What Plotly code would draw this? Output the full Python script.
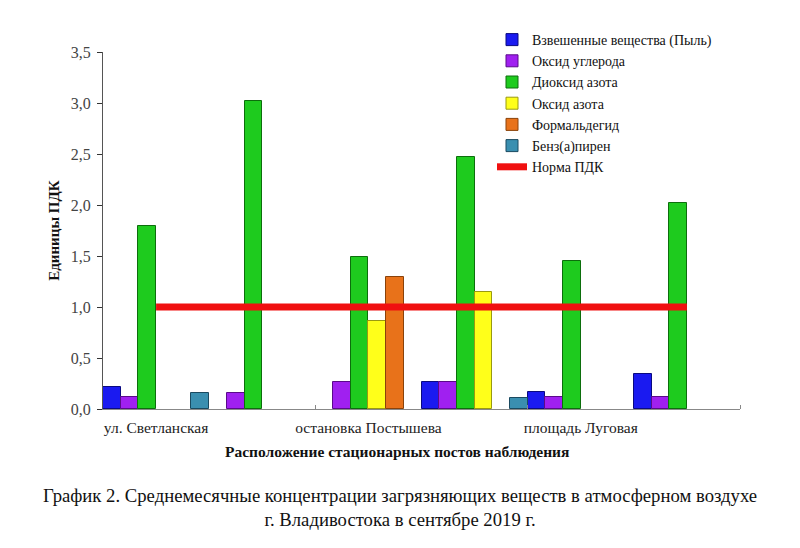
import plotly.graph_objects as go

# 6 подгрупп по оси X (по две на каждый пост наблюдения)
positions = [0, 1, 2, 3, 4, 5]
post_ticks = [0, 2, 4]
post_labels = ["ул. Светланская", "остановка Постышева", "площадь Луговая"]

dust = [0.22, None, None, 0.26, 0.17, 0.34]
co = [0.12, 0.16, 0.26, 0.26, 0.12, 0.12]
no2 = [1.79, 3.02, 1.49, 2.47, 1.45, 2.02]
no = [None, None, 0.86, 1.15, None, None]
formaldehyde = [None, None, 1.29, None, None, None]
benzpyrene = [0.16, None, None, 0.11, None, None]

pdk_x = [0, 5]
pdk_y = [1.0, 1.0]

series = [
    ("Взвешенные вещества (Пыль)", dust, "#1a1af0", "#0a0a80"),
    ("Оксид углерода", co, "#a020f0", "#5a0a8a"),
    ("Диоксид азота", no2, "#1ecb1e", "#0c6e0c"),
    ("Оксид азота", no, "#ffff1a", "#9a9a10"),
    ("Формальдегид", formaldehyde, "#e8721a", "#8a420a"),
    ("Бенз(а)пирен", benzpyrene, "#3a8fb0", "#1a4a60"),
]

serif = "Liberation Serif, Times New Roman, serif"

# страница сдвигает график на 8px (отступ body)
L, R, T, B = 95, 68, 44, 146.5
W, H = 800, 548
pw, ph = W - L - R, H - T - B


def px_x(sx):
    return (sx - 8 - L) / pw


def px_y(sy):
    return (H - B - (sy - 8)) / ph


fig = go.Figure()
for name, vals, col, edge in series:
    fig.add_trace(go.Bar(x=positions, y=vals, name=name,
                         marker=dict(color=col, line=dict(color=edge, width=1))))

fig.add_trace(go.Scatter(x=pdk_x, y=pdk_y, mode="lines", name="Норма ПДК",
                         line=dict(color="#f01010", width=7)))

fig.update_layout(
    width=W, height=H,
    margin=dict(l=L, r=R, t=T, b=B, autoexpand=False),
    plot_bgcolor="white", paper_bgcolor="white",
    barmode="group", bargap=0, bargroupgap=0,
    separators=", ",
    font=dict(family=serif, size=15, color="#222"),
    showlegend=True,
    legend=dict(x=484 / W, y=1 - 16 / H, xref="container", yref="container",
                xanchor="left", yanchor="top",
                font=dict(family=serif, size=14, color="#111"),
                itemwidth=30, tracegroupgap=0, bgcolor="rgba(0,0,0,0)"),
)

fig.update_xaxes(range=[-0.5, 5.5], tickvals=post_ticks, ticktext=post_labels,
                 ticks="", ticklabelstandoff=4,
                 showline=True, linecolor="#888", linewidth=1,
                 showgrid=False, zeroline=False,
                 tickfont=dict(family=serif, size=15.5, color="#222"),
                 minor=dict(tickvals=[1.5, 3.5, 5.5], ticks="inside", ticklen=4,
                            tickcolor="#888", showgrid=False))
fig.update_yaxes(range=[0, 3.5], tickvals=[0, 0.5, 1, 1.5, 2, 2.5, 3, 3.5],
                 tickformat=".1f", ticks="outside", ticklen=5, tickcolor="#333",
                 showline=True, linecolor="#555", linewidth=1,
                 showgrid=False, zeroline=False, ticklabelstandoff=3,
                 tickfont=dict(family=serif, size=16, color="#444"),
                 title=dict(text="<b>Единицы ПДК</b>", standoff=7,
                            font=dict(family=serif, size=15, color="#111")))

fig.add_annotation(x=px_x(397), y=px_y(452),
                   xref="paper", yref="paper", yanchor="middle",
                   text="<b>Расположение стационарных постов наблюдения</b>",
                   showarrow=False, font=dict(family=serif, size=15.5, color="#111"))
fig.add_annotation(x=px_x(400), y=px_y(508),
                   xref="paper", yref="paper", yanchor="middle",
                   text="График 2. Среднемесячные концентрации загрязняющих веществ в атмосферном воздухе"
                        "<br>г. Владивостока в сентябре 2019 г.",
                   showarrow=False, font=dict(family=serif, size=18.7, color="#111"))

fig.write_html("out.html")
